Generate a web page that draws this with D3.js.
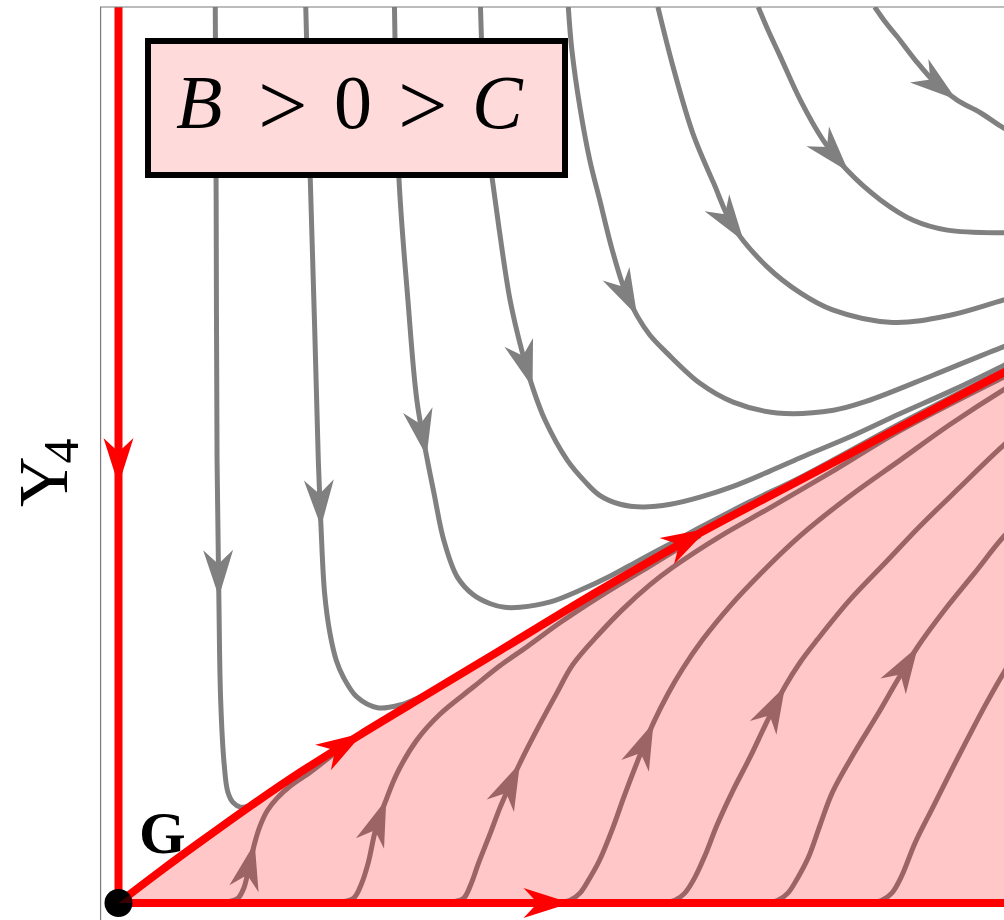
<!DOCTYPE html>
<html>
<head>
<meta charset="utf-8">
<script src="https://cdn.jsdelivr.net/npm/d3@7"></script>
<style>
  html, body { margin: 0; padding: 0; background: #ffffff; }
  svg { display: block; }
</style>
</head>
<body>
<svg id="chart" width="1004" height="920"></svg>
<script>
// ---------------------------------------------------------------
// Phase plane near the fixed point G (Y3 horizontal, Y4 vertical).
// Every trajectory is a list of [x, y] points in plane units.
// ---------------------------------------------------------------

// invariant separatrix leaving G (red), bounding the shaded basin
const separatrix = [[0,0],[0.46,0.35],[0.91,0.68],[1.47,1.08],[2.03,1.46],[2.70,1.88],[3.48,2.35],
  [4.26,2.82],[5.37,3.49],[6.49,4.13],[7.61,4.72],[8.72,5.31],[9.88,5.92],[10.29,6.12]];
// invariant axes through G
const axisY4 = [[0,10],[0,0]];
const axisY3 = [[0,0],[10.5,0]];

// trajectories above the separatrix (coming down from large Y4)
const flow1 = [[1.08,10],[1.09,7.85],[1.10,4.94],[1.12,3.42],[1.14,2.27],[1.18,1.54],[1.22,1.24],[1.28,1.12],[1.36,1.07],[1.45,1.08],[1.56,1.15]];
const flow2 = [[2.09,10],[2.14,8.09],[2.19,6.40],[2.23,4.94],[2.26,4.20],[2.30,3.46],[2.36,3.01],[2.43,2.71],[2.51,2.52],[2.66,2.30],[2.89,2.18],[3.14,2.21],[3.37,2.30],[3.59,2.41]];
const flow3 = [[3.08,10],[3.13,8.09],[3.23,6.73],[3.33,5.61],[3.44,4.98],[3.52,4.58],[3.63,4.05],[3.78,3.64],[3.96,3.44],[4.15,3.34],[4.31,3.30],[4.48,3.30],[4.82,3.36],[5.15,3.49],[5.49,3.65],[5.82,3.83],[6.16,4.01],[6.49,4.19],[7.05,4.48],[7.61,4.75],[8.72,5.35],[9.88,5.95],[10.30,6.17]];
const flow4 = [[4.04,10],[4.08,8.96],[4.13,8.40],[4.17,8.09],[4.25,7.51],[4.37,6.73],[4.50,6.17],[4.62,5.76],[4.76,5.39],[5.01,4.94],[5.21,4.70],[5.37,4.55],[5.60,4.45],[5.85,4.42],[6.16,4.45],[6.49,4.53],[6.86,4.65],[7.27,4.82],[7.61,4.97],[8.16,5.20],[8.72,5.46],[9.28,5.71],[9.88,6.00],[10.29,6.21]];
const flow5 = [[5.02,10],[5.06,9.52],[5.15,8.88],[5.26,8.29],[5.37,7.85],[5.51,7.29],[5.65,6.84],[5.79,6.55],[5.93,6.34],[6.12,6.14],[6.49,5.80],[6.86,5.59],[7.35,5.47],[7.98,5.50],[8.35,5.60],[9.09,5.89],[9.88,6.21],[10.29,6.36]];
const flow6 = [[6.02,10],[6.19,9.33],[6.41,8.59],[6.64,8.04],[6.86,7.55],[7.24,7.10],[7.61,6.81],[7.97,6.62],[8.64,6.48],[9.28,6.56],[9.88,6.73],[10.29,6.84]];
const flow7 = [[7.14,10],[7.25,9.74],[7.38,9.46],[7.61,8.96],[7.86,8.52],[8.13,8.18],[8.50,7.85],[8.87,7.62],[9.25,7.51],[9.88,7.48],[10.29,7.49]];
const flow8 = [[8.44,10],[8.56,9.83],[8.69,9.67],[8.89,9.41],[9.11,9.16],[9.36,8.96],[9.62,8.82],[9.88,8.65],[10.29,8.46]];

// trajectories inside the basin (leaving the Y3 axis)
const basinA = [[0.91,0],[1.19,0.01],[1.33,0.05],[1.40,0.17],[1.45,0.37],[1.52,0.67],[1.58,0.86],[1.66,1.03],[1.77,1.17],[1.91,1.30],[2.14,1.46],[2.36,1.63],[2.53,1.76]];
const basinB = [[2.25,0],[2.47,0.01],[2.62,0.05],[2.71,0.21],[2.79,0.46],[2.87,0.82],[2.99,1.16],[3.11,1.45],[3.33,1.82],[3.59,2.11],[3.96,2.41],[4.26,2.65],[4.56,2.86],[4.93,3.13],[5.37,3.42],[5.93,3.76],[6.49,4.10]];
const basinC = [[3.59,0],[3.72,0.01],[3.85,0.05],[3.93,0.20],[4.02,0.45],[4.15,0.78],[4.26,1.07],[4.37,1.32],[4.48,1.56],[4.70,1.99],[4.89,2.34],[5.07,2.66],[5.37,3.01],[5.63,3.28],[5.93,3.55],[6.19,3.75],[6.71,4.09],[7.27,4.41],[7.94,4.80],[8.72,5.27],[9.88,5.87],[10.29,6.07]];
const basinD = [[4.87,0],[5.04,0.03],[5.15,0.11],[5.26,0.28],[5.37,0.48],[5.51,0.82],[5.65,1.21],[5.80,1.60],[5.97,2.01],[6.13,2.33],[6.30,2.62],[6.52,2.94],[6.83,3.32],[7.16,3.67],[7.61,4.10],[8.16,4.54],[8.72,4.94],[9.28,5.34],[9.88,5.73],[10.29,5.97]];
const basinE = [[6.04,0],[6.21,0.03],[6.32,0.11],[6.43,0.28],[6.55,0.54],[6.68,0.87],[6.86,1.26],[7.05,1.63],[7.24,2.03],[7.44,2.42],[7.61,2.69],[7.80,2.94],[8.16,3.38],[8.56,3.80],[8.95,4.21],[9.39,4.64],[9.88,5.11],[10.29,5.45]];
const basinF = [[7.22,0],[7.36,0.03],[7.47,0.11],[7.58,0.28],[7.70,0.51],[7.83,0.87],[7.97,1.24],[8.22,1.69],[8.47,2.10],[8.69,2.48],[8.92,2.86],[9.22,3.27],[9.56,3.69],[9.88,4.09],[10.29,4.50]];
const basinG = [[8.39,0],[8.52,0.03],[8.63,0.11],[8.74,0.30],[8.89,0.67],[9.09,1.07],[9.28,1.45],[9.47,1.82],[9.67,2.20],[9.88,2.57],[10.29,3.21]];

// arrowhead tips (plane units), one per trajectory that carries an arrow
const flowTrajectories = [flow1, flow2, flow3, flow4, flow5, flow6, flow7, flow8,
                          basinA, basinB, basinC, basinD, basinE, basinF, basinG];
const flowArrowTips = [[1.12,3.42],[2.26,4.20],[3.44,4.98],[4.62,5.76],[5.79,6.55],[6.94,7.35],[8.14,8.16],[9.35,8.97],
                       [1.52,0.67],[2.99,1.16],[4.48,1.56],[5.97,2.01],[7.44,2.42],[8.92,2.86],null];
const axisY4ArrowTips = [[0,4.67]];
const axisY3ArrowTips = [[5.04,0]];
const separatrixArrowTips = [[2.73,1.89],[6.57,4.20]];

// labels
const regionLabel = ["B", ">", "0", ">", "C"];
const axisLabel = ["Y", "4"];
const pointLabel = "G";

// ---------------------------------------------------------------
const x = d3.scaleLinear().domain([0, 10]).range([118.5, 118.5 + 896]);
const y = d3.scaleLinear().domain([0, 10]).range([903, 7]);

const svg = d3.select("#chart");
svg.append("rect").attr("width", 1004).attr("height", 920).attr("fill", "#ffffff");

const defs = svg.append("defs");
defs.append("clipPath").attr("id", "plotArea")
  .append("rect")
  .attr("x", x(-0.2)).attr("y", y(10))
  .attr("width", x(11) - x(-0.2)).attr("height", y(-0.3) - y(10));

const plot = svg.append("g").attr("clip-path", "url(#plotArea)");

const curve = d3.line()
  .x(d => x(d[0])).y(d => y(d[1]))
  .curve(d3.curveCatmullRom.alpha(0.5));

// swept arrowhead, tip at the origin pointing along +x
const AL = 47, AW = 30;
const arrowShape = `M0,0 L${-AL},${-AW/2} L${-0.7*AL},0 L${-AL},${AW/2} Z`;

function addArrow(g, pathNode, tip, color) {
  const len = pathNode.getTotalLength();
  const tx = x(tip[0]), ty = y(tip[1]);
  let best = 0, bestD = Infinity;
  for (let s = 0; s <= len; s += 1) {
    const p = pathNode.getPointAtLength(s);
    const d = (p.x - tx) ** 2 + (p.y - ty) ** 2;
    if (d < bestD) { bestD = d; best = s; }
  }
  const p = pathNode.getPointAtLength(best);
  const q = pathNode.getPointAtLength(Math.max(0, best - 22));
  const ang = Math.atan2(p.y - q.y, p.x - q.x) * 180 / Math.PI;
  g.append("path")
    .attr("d", arrowShape)
    .attr("fill", color)
    .attr("transform", `translate(${p.x},${p.y}) rotate(${ang})`);
}

// gray trajectories
const flowG = plot.append("g");
flowTrajectories.forEach((traj, i) => {
  const path = flowG.append("path")
    .attr("d", curve(traj))
    .attr("fill", "none")
    .attr("stroke", "#808080")
    .attr("stroke-width", 5)
    .attr("stroke-linejoin", "round");
  if (flowArrowTips[i]) addArrow(flowG, path.node(), flowArrowTips[i], "#808080");
});

// red invariant manifolds
const redG = plot.append("g");
[[axisY4, axisY4ArrowTips], [axisY3, axisY3ArrowTips], [separatrix, separatrixArrowTips]]
  .forEach(([traj, tips]) => {
    const path = redG.append("path")
      .attr("d", d3.line().x(d => x(d[0])).y(d => y(d[1]))
        .curve(traj.length > 2 ? d3.curveCatmullRom.alpha(0.5) : d3.curveLinear)(traj))
      .attr("fill", "none")
      .attr("stroke", "#ff0000")
      .attr("stroke-width", 8);
    tips.forEach(t => addArrow(redG, path.node(), t, "#ff0000"));
  });

// fixed point G
plot.append("circle")
  .attr("cx", x(0)).attr("cy", y(0)).attr("r", 14)
  .attr("fill", "#000000");

// basin of attraction shading (translucent red over everything below the separatrix)
const basinPath = curve(separatrix) + `L${x(10.6)},${y(-0.3)}L${x(0)},${y(-0.3)}L${x(0)},${y(0)}Z`;
defs.append("clipPath").attr("id", "basinTop")
  .append("rect").attr("x", x(-0.2)).attr("y", y(10))
  .attr("width", x(11) - x(-0.2)).attr("height", y(0) - y(10));
plot.append("path")
  .attr("d", basinPath)
  .attr("clip-path", "url(#basinTop)")
  .attr("fill", "#ff0000")
  .attr("fill-opacity", 0.22);

// frame
svg.append("path")
  .attr("d", `M${x(10.6)},${y(10)}L${x(-0.2)},${y(10)}L${x(-0.2)},${y(-0.3)}`)
  .attr("fill", "none")
  .attr("stroke", "#7a7a7a")
  .attr("stroke-width", 1.2);

// region label
svg.append("rect")
  .attr("x", 148).attr("y", 41).attr("width", 417).attr("height", 134)
  .attr("fill", "#ffdada")
  .attr("stroke", "#000000")
  .attr("stroke-width", 6);

const labelText = svg.append("text")
  .attr("y", 128)
  .attr("font-family", "'Liberation Serif', 'DejaVu Serif', serif")
  .attr("fill", "#000000");
const labelX = [176, 258, 334, 398, 472];
regionLabel.forEach((s, i) => {
  const t = labelText.append("tspan").attr("x", labelX[i]).text(s);
  if (s === ">") t.attr("font-size", 88).attr("y", 135);
  else if (s === "0") t.attr("font-size", 76).attr("y", 128);
  else t.attr("font-size", 76).attr("font-style", "italic").attr("y", 128);
});

// vertical axis label
const yLab = svg.append("text")
  .attr("transform", "translate(67,507) rotate(-90)")
  .attr("font-family", "'Liberation Serif', 'DejaVu Serif', serif")
  .attr("fill", "#000000");
yLab.append("tspan").attr("font-size", 70).text(axisLabel[0]);
yLab.append("tspan").attr("font-size", 50).attr("dx", -7).attr("dy", 11).text(axisLabel[1]);

// fixed point label
svg.append("text")
  .attr("x", 139).attr("y", 853)
  .attr("font-family", "'Liberation Serif', 'DejaVu Serif', serif")
  .attr("font-weight", "bold")
  .attr("font-size", 60)
  .attr("fill", "#000000")
  .text(pointLabel);
</script>
</body>
</html>
